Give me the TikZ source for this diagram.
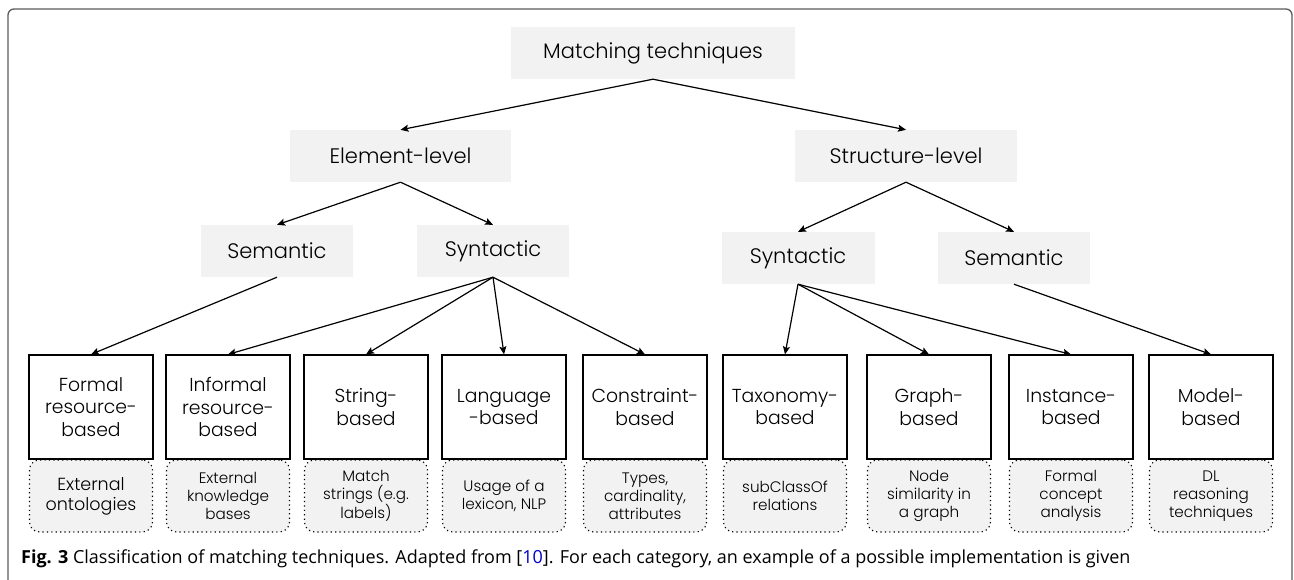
\documentclass[tikz,border=0pt]{standalone}
\usepackage{fontspec}
\setmainfont{Poppins Light}
\newfontfamily\capfont{Open Sans}
\usetikzlibrary{arrows.meta}
\definecolor{boxgray}{HTML}{F2F2F2}
\definecolor{framegray}{HTML}{5A5A5A}
\begin{document}
\begin{tikzpicture}[x=1pt,y=-1pt,
  topbox/.style={fill=boxgray, draw=none, inner sep=0pt, minimum height=52pt, font=\fontsize{21pt}{25pt}\selectfont},
  catbox/.style={fill=white, draw=black, line width=1.2pt, inner sep=0pt, minimum width=124pt, minimum height=104pt, align=center, font=\fontsize{18.8pt}{22.5pt}\selectfont},
  exbox/.style={fill=boxgray, draw=black, dash pattern=on 1.2pt off 3.2pt, line width=1.1pt, rounded corners=10pt, inner sep=0pt, minimum width=123pt, minimum height=72pt, align=center, font=\fontsize{15.2pt}{18pt}\selectfont},
  exbig/.style={font=\fontsize{17.5pt}{20pt}\selectfont},
  arr/.style={-{Stealth[length=8pt,width=7pt,inset=1.5pt]}, line width=1.2pt, black}
]
\useasboundingbox (0,0) rectangle (1294,579);
\clip (0,0) rectangle (1294,579);
\draw[framegray, line width=1.3pt, rounded corners=6pt] (8,620) -- (8,9) -- (1292,9) -- (1292,620);

% top level
\node[topbox, minimum width=284pt] (mt) at (653,53) {Matching techniques};
\node[topbox, minimum width=221pt] (el) at (400.5,156) {Element-level};
\node[topbox, minimum width=222pt] (sl) at (906,156) {Structure-level};
\node[topbox, minimum width=152pt] (sem1) at (277,251) {Semantic};
\node[topbox, minimum width=152pt] (syn1) at (493,251) {Syntactic};
\node[topbox, minimum width=153pt] (syn2) at (798,258) {Syntactic};
\node[topbox, minimum width=152pt] (sem2) at (1014,258) {Semantic};

% categories
\node[catbox] (c1) at (91,407) {Formal\\resource-\\based};
\node[catbox] (c2) at (228,407) {Informal\\resource-\\based};
\node[catbox] (c3) at (366,407) {String-\\based};
\node[catbox] (c4) at (504,407) {Language\\-based};
\node[catbox] (c5) at (645,407) {Constraint-\\based};
\node[catbox] (c6) at (785,407) {Taxonomy-\\based};
\node[catbox] (c7) at (929,407) {Graph-\\based};
\node[catbox] (c8) at (1071,407) {Instance-\\based};
\node[catbox] (c9) at (1211,407) {Model-\\based};

% examples
\node[exbox, exbig] (e1) at (91,496) {External\\ontologies};
\node[exbox] (e2) at (228,496) {External\\knowledge\\bases};
\node[exbox] (e3) at (366,496) {Match\\strings (e.g.\\labels)};
\node[exbox] (e4) at (504,496) {Usage of a\\lexicon, NLP};
\node[exbox] (e5) at (645,496) {Types,\\cardinality,\\attributes};
\node[exbox] (e6) at (785,496) {subClassOf\\relations};
\node[exbox] (e7) at (929,496) {Node\\similarity in\\a graph};
\node[exbox] (e8) at (1071,496) {Formal\\concept\\analysis};
\node[exbox] (e9) at (1211,496) {DL\\reasoning\\techniques};

% arrows
\draw[arr] (mt.south) -- (el.north);
\draw[arr] (mt.south) -- (sl.north);
\draw[arr] (el.south) -- (sem1.north);
\draw[arr] (el.south) -- (syn1.north);
\draw[arr] (sl.south) -- (syn2.north);
\draw[arr] (sl.south) -- (sem2.north);
\draw[arr] (sem1.south) -- (c1.north);
\draw[arr] (syn1.south) -- (c2.north);
\draw[arr] (syn1.south) -- (c3.north);
\draw[arr] (syn1.south) -- (c4.north);
\draw[arr] (syn1.south) -- (c5.north);
\draw[arr] (syn2.south) -- (c6.north);
\draw[arr] (syn2.south) -- (c7.north);
\draw[arr] (syn2.south) -- (c8.north);
\draw[arr] (sem2.south) -- (c9.north);

% caption
\node[anchor=base west, inner sep=0pt, font=\capfont\fontsize{18pt}{20pt}\selectfont] (cap) at (21,563)
  {\textbf{Fig. 3} Classification of matching techniques. Adapted from [\textcolor{blue!80!black}{10}]. For each category, an example of a possible implementation is given};
\end{tikzpicture}
\end{document}
